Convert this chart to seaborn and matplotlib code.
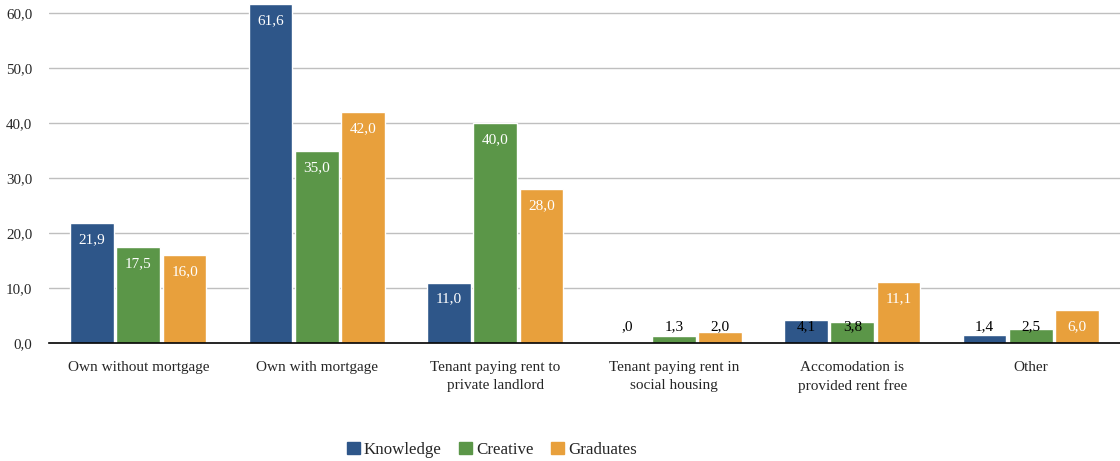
import matplotlib
matplotlib.use("Agg")
import matplotlib.pyplot as plt
import seaborn as sns
import pandas as pd

# Housing tenure by group (%)
categories = [
    "Own without mortgage",
    "Own with mortgage",
    "Tenant paying rent to\nprivate landlord",
    "Tenant paying rent in\nsocial housing",
    "Accomodation is\nprovided rent free",
    "Other",
]
groups = ["Knowledge", "Creative", "Graduates"]
knowledge = [21.9, 61.6, 11.0, 0.0, 4.1, 1.4]
creative = [17.5, 35.0, 40.0, 1.3, 3.8, 2.5]
graduates = [16.0, 42.0, 28.0, 2.0, 11.1, 6.0]
y_ticks = [0, 10, 20, 30, 40, 50, 60]

palette = {"Knowledge": "#2E5689", "Creative": "#5B9648", "Graduates": "#E8A03C"}

rows = []
for g, vals in zip(groups, [knowledge, creative, graduates]):
    for c, v in zip(categories, vals):
        rows.append({"category": c, "group": g, "value": v})
df = pd.DataFrame(rows)

sns.set_style("white")
plt.rcParams["font.family"] = ["Liberation Serif", "DejaVu Serif"]

fig = plt.figure(figsize=(11.2, 4.61), dpi=100)
ax = fig.add_axes([49 / 1120, 1 - 343 / 461, 1 - 49 / 1120, 342.6 / 461])

sns.barplot(data=df, x="category", y="value", hue="group", order=categories,
            hue_order=groups, palette=palette, width=0.78, gap=0.06,
            saturation=1, errorbar=None, ax=ax, legend=False)

ax.set_ylim(0, 62.3)
ax.set_xlim(-0.5, len(categories) - 0.5)
ax.set_yticks(y_ticks)
ax.set_yticklabels([f"{t:.1f}".replace(".", ",") for t in y_ticks], fontsize=10.8)
ax.tick_params(axis="y", length=0, pad=12)
ax.tick_params(axis="x", length=0, pad=13, labelsize=11)
for lbl in ax.get_xticklabels():
    lbl.set_linespacing(1.45)
ax.set_xlabel("")
ax.set_ylabel("")
for t in y_ticks[1:]:
    ax.axhline(t, color="#BFBFBF", lw=1, zorder=0)
for s in ["top", "right", "left"]:
    ax.spines[s].set_visible(False)
ax.spines["bottom"].set_color("black")
ax.spines["bottom"].set_linewidth(1.2)
ax.set_axisbelow(True)

def fmt(v):
    s = f"{v:.1f}".replace(".", ",")
    return s[1:] if s.startswith("0,") else s

# Value labels: white inside the top of tall bars, black near the base of short ones
for cont in ax.containers:
    for bar in cont:
        v = bar.get_height()
        x = bar.get_x() + bar.get_width() / 2
        if v >= 5.9:
            ax.annotate(fmt(v), (x, v), xytext=(0, -12), textcoords="offset points",
                        ha="center", va="center", color="white", fontsize=11)
        else:
            ax.text(x, 2.9, fmt(v), ha="center", va="center", color="black", fontsize=11)

handles = [plt.Rectangle((0, 0), 1, 1, color=palette[g]) for g in groups]
fig.legend(handles, groups, loc="center", bbox_to_anchor=(492 / 1120, 1 - 450 / 461),
           ncol=3, frameon=False, fontsize=12.2, handlelength=0.75, handleheight=0.75,
           handletextpad=0.25, columnspacing=1.03)

fig.savefig("out.png", dpi=100)
